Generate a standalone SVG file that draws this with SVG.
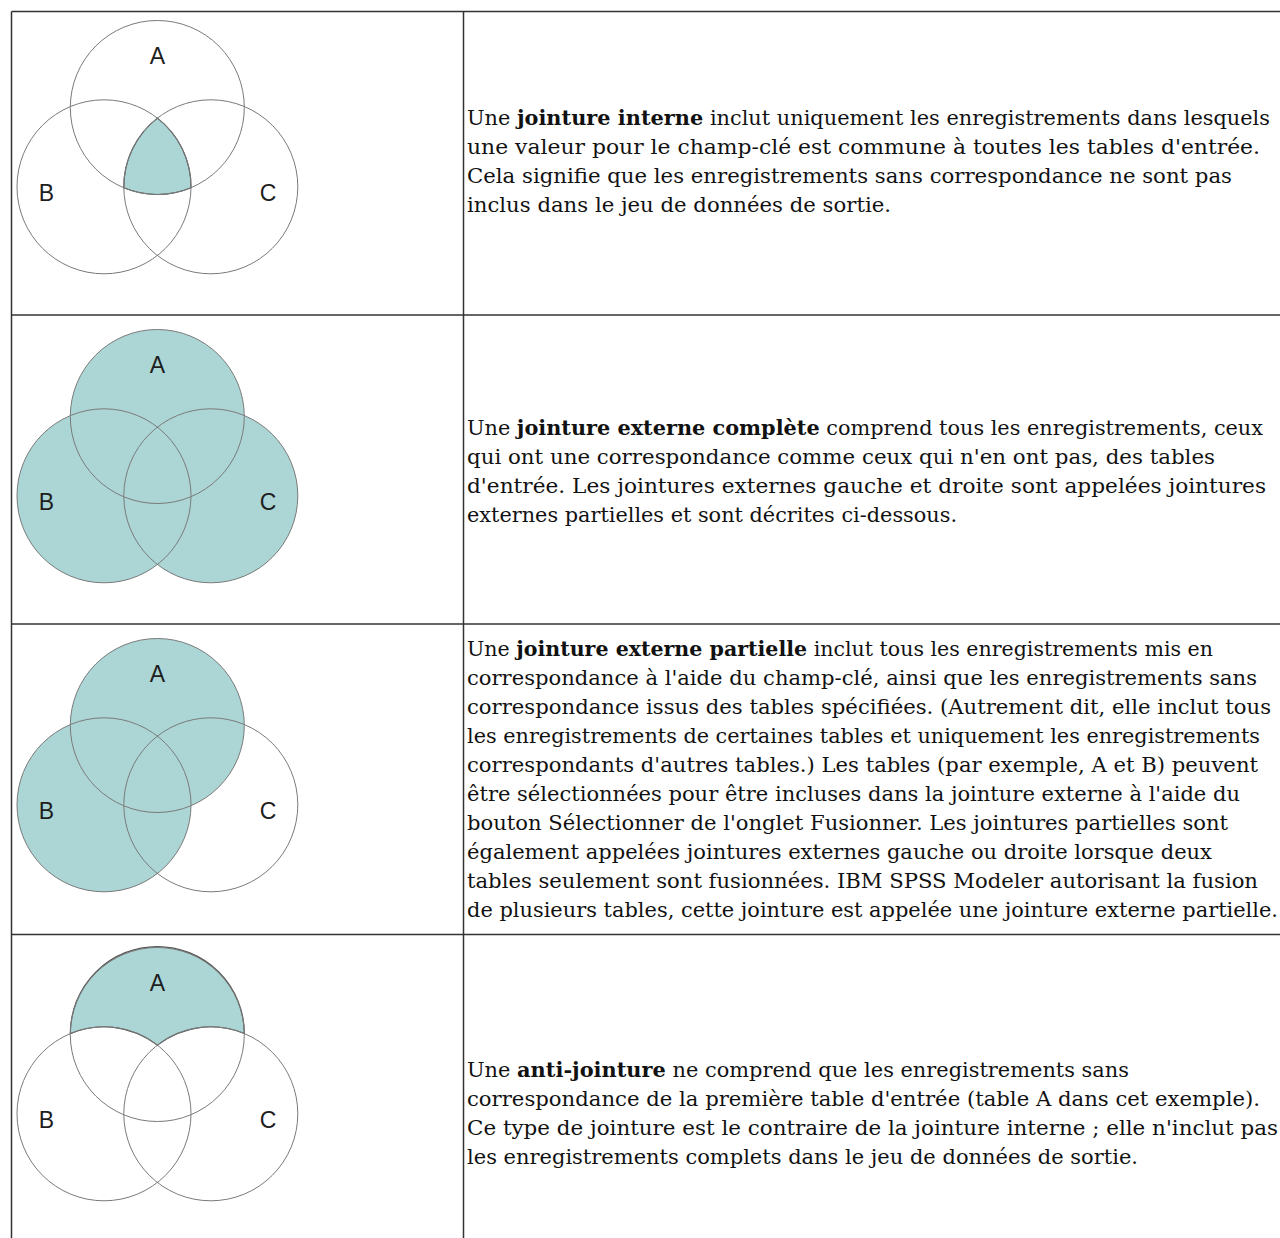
<svg xmlns="http://www.w3.org/2000/svg" width="1280" height="1238" viewBox="0 0 1280 1238">
<style>
.grid{stroke:#333;stroke-width:1.5;fill:none}
.ring{fill:none;stroke:#7a7a7a;stroke-width:1}
.fill{fill:#acd6d6;stroke:none}
.edge{fill:#acd6d6;stroke:#555;stroke-width:1.2}
.lbl{font-family:"Liberation Sans",Arial,sans-serif;font-size:23px;fill:#1e1e1e;text-anchor:middle}
.txt{font-family:"DejaVu Serif","Liberation Serif",serif;font-size:19.5px;fill:#111}
.b{font-weight:bold}
</style>
<defs>
<g id="rings">
<circle class="ring" cx="157.3" cy="107.5" r="87"/>
<circle class="ring" cx="104" cy="186.8" r="87"/>
<circle class="ring" cx="210.8" cy="186.8" r="87"/>
<text class="lbl" x="157.5" y="63.5">A</text>
<text class="lbl" x="46.5" y="201">B</text>
<text class="lbl" x="268" y="201">C</text>
</g>
</defs>
<rect width="1280" height="1238" fill="#fff"/>
<g id="grid" class="grid">
<line x1="11.5" y1="11.5" x2="1280" y2="11.5"/>
<line x1="11.5" y1="11.5" x2="11.5" y2="1238"/>
<line x1="463.5" y1="11.5" x2="463.5" y2="1238"/>
<line x1="11.5" y1="315" x2="1280" y2="315"/>
<line x1="11.5" y1="624" x2="1280" y2="624"/>
<line x1="11.5" y1="934.5" x2="1280" y2="934.5"/>
</g>
<g id="inner-join-diagram">
<path class="edge" d="M157.4,118.1 A87,87 0 0,1 191,187.7 A87,87 0 0,1 123.8,187.8 A87,87 0 0,1 157.4,118.1 Z"/>
<use href="#rings"/>
</g>
<g id="inner-join-text">
<text class="txt" x="467" y="125" textLength="803" lengthAdjust="spacingAndGlyphs">Une <tspan class="b">jointure interne</tspan> inclut uniquement les enregistrements dans lesquels</text>
<text class="txt" x="467" y="154" textLength="793" lengthAdjust="spacingAndGlyphs">une valeur pour le champ-clé est commune à toutes les tables d'entrée.</text>
<text class="txt" x="467" y="183" textLength="765" lengthAdjust="spacingAndGlyphs">Cela signifie que les enregistrements sans correspondance ne sont pas</text>
<text class="txt" x="467" y="212" textLength="424" lengthAdjust="spacingAndGlyphs">inclus dans le jeu de données de sortie.</text>
</g>
<g id="full-outer-join-diagram" transform="translate(0,309)">
<circle class="fill" cx="157.3" cy="107.5" r="87"/>
<circle class="fill" cx="104" cy="186.8" r="87"/>
<circle class="fill" cx="210.8" cy="186.8" r="87"/>
<use href="#rings"/>
</g>
<g id="full-outer-join-text">
<text class="txt" x="467" y="435" textLength="796" lengthAdjust="spacingAndGlyphs">Une <tspan class="b">jointure externe complète</tspan> comprend tous les enregistrements, ceux</text>
<text class="txt" x="467" y="464" textLength="748" lengthAdjust="spacingAndGlyphs">qui ont une correspondance comme ceux qui n'en ont pas, des tables</text>
<text class="txt" x="467" y="493" textLength="799" lengthAdjust="spacingAndGlyphs">d'entrée. Les jointures externes gauche et droite sont appelées jointures</text>
<text class="txt" x="467" y="522" textLength="490" lengthAdjust="spacingAndGlyphs">externes partielles et sont décrites ci-dessous.</text>
</g>
<g id="partial-outer-join-diagram" transform="translate(0,618)">
<circle class="fill" cx="157.3" cy="107.5" r="87"/>
<circle class="fill" cx="104" cy="186.8" r="87"/>
<use href="#rings"/>
</g>
<g id="partial-outer-join-text">
<text class="txt" x="467" y="656" textLength="746" lengthAdjust="spacingAndGlyphs">Une <tspan class="b">jointure externe partielle</tspan> inclut tous les enregistrements mis en</text>
<text class="txt" x="467" y="685" textLength="790" lengthAdjust="spacingAndGlyphs">correspondance à l'aide du champ-clé, ainsi que les enregistrements sans</text>
<text class="txt" x="467" y="714" textLength="804" lengthAdjust="spacingAndGlyphs">correspondance issus des tables spécifiées. (Autrement dit, elle inclut tous</text>
<text class="txt" x="467" y="743" textLength="793" lengthAdjust="spacingAndGlyphs">les enregistrements de certaines tables et uniquement les enregistrements</text>
<text class="txt" x="467" y="772" textLength="791" lengthAdjust="spacingAndGlyphs">correspondants d'autres tables.) Les tables (par exemple, A et B) peuvent</text>
<text class="txt" x="467" y="801" textLength="773" lengthAdjust="spacingAndGlyphs">être sélectionnées pour être incluses dans la jointure externe à l'aide du</text>
<text class="txt" x="467" y="830" textLength="761" lengthAdjust="spacingAndGlyphs">bouton Sélectionner de l'onglet Fusionner. Les jointures partielles sont</text>
<text class="txt" x="467" y="859" textLength="745" lengthAdjust="spacingAndGlyphs">également appelées jointures externes gauche ou droite lorsque deux</text>
<text class="txt" x="467" y="888" textLength="791" lengthAdjust="spacingAndGlyphs">tables seulement sont fusionnées. IBM SPSS Modeler autorisant la fusion</text>
<text class="txt" x="467" y="917" textLength="811" lengthAdjust="spacingAndGlyphs">de plusieurs tables, cette jointure est appelée une jointure externe partielle.</text>
</g>
<g id="anti-join-diagram" transform="translate(0,927)">
<path class="edge" d="M70.3,106.6 A87,87 0 1,1 244.3,106.5 A87,87 0 0,0 157.4,118.1 A87,87 0 0,0 70.3,106.6 Z"/>
<use href="#rings"/>
</g>
<g id="anti-join-text">
<text class="txt" x="467" y="1077" textLength="662" lengthAdjust="spacingAndGlyphs">Une <tspan class="b">anti-jointure</tspan> ne comprend que les enregistrements sans</text>
<text class="txt" x="467" y="1106" textLength="793" lengthAdjust="spacingAndGlyphs">correspondance de la première table d'entrée (table A dans cet exemple).</text>
<text class="txt" x="467" y="1135" textLength="811" lengthAdjust="spacingAndGlyphs">Ce type de jointure est le contraire de la jointure interne ; elle n'inclut pas</text>
<text class="txt" x="467" y="1164" textLength="671" lengthAdjust="spacingAndGlyphs">les enregistrements complets dans le jeu de données de sortie.</text>
</g>
</svg>
